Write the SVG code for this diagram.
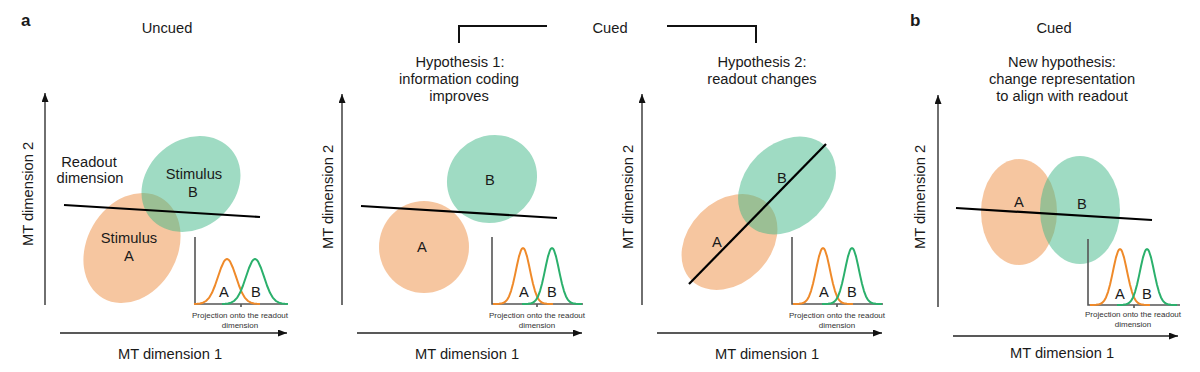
<svg xmlns="http://www.w3.org/2000/svg" width="1200" height="372" viewBox="0 0 1200 372">
<style>
text{font-family:"Liberation Sans",Arial,sans-serif;fill:#1a1a1a}
.t{font-size:14.7px;text-anchor:middle}
.lab{font-size:17px;font-weight:bold}
.cap{font-size:8px;text-anchor:middle;fill:#333}
.ax{stroke:#222;stroke-width:1.3;fill:none;marker-end:url(#arr)}
.iax{stroke:#555;stroke-width:1.6;fill:none}
.ro{stroke:#000;stroke-width:2.2;fill:none}
.eo{fill:#f0a060;fill-opacity:0.6}
.eg{fill:#40b888;fill-opacity:0.5}
.go{stroke:#ef8a2a;stroke-width:2;fill:none;stroke-linejoin:round}
.gg{stroke:#2bb06c;stroke-width:2;fill:none;stroke-linejoin:round}
.br{stroke:#111;stroke-width:2;fill:none}
</style>
<defs>
<marker id="arr" markerUnits="userSpaceOnUse" markerWidth="10" markerHeight="8" refX="9" refY="3.5" orient="auto">
<path d="M0,0 L9,3.5 L0,7 z" fill="#111"/>
</marker>
<path id="g1" d="M-33,0 L-30,-0.2 L-27,-0.5 L-24,-1.3 L-21,-3 L-18,-6.1 L-15,-11.2 L-12,-18.5 L-9,-27.3 L-6,-36 L-3,-42.6 L-1.5,-44.4 L0,-45 L1.5,-44.4 L3,-42.6 L6,-36 L9,-27.3 L12,-18.5 L15,-11.2 L18,-6.1 L21,-3 L24,-1.3 L27,-0.5 L30,-0.2 L33,0"/>
<path id="g2" d="M-30,0 L-26,-0.05 L-24,-0.16 L-22,-0.4 L-20,-0.95 L-18,-2.05 L-16,-4.1 L-14,-7.6 L-12,-12.9 L-10,-20.2 L-8,-29.1 L-6,-38.8 L-4,-47.6 L-2,-53.8 L-1,-55.4 L0,-56 L1,-55.4 L2,-53.8 L4,-47.6 L6,-38.8 L8,-29.1 L10,-20.2 L12,-12.9 L14,-7.6 L16,-4.1 L18,-2.05 L20,-0.95 L22,-0.4 L24,-0.16 L26,-0.05 L30,0"/>
</defs>
<rect width="1200" height="372" fill="#fff"/>

<g id="connectors">
<path class="br" d="M459,43 V26 H547"/>
<path class="br" d="M667,26 H756 V43"/>
</g>

<g id="header">
<text class="lab" x="21" y="26">a</text>
<text class="lab" x="910" y="26">b</text>
<text class="t" x="167" y="33">Uncued</text>
<text class="t" x="610" y="33">Cued</text>
<text class="t" x="1054" y="33">Cued</text>
</g>

<g id="panel-uncued">
<path class="ax" d="M45,305 V93"/>
<path class="ax" d="M60,333 H287"/>
<text class="t" transform="translate(33,194) rotate(-90)">MT dimension 2</text>
<text class="t" x="170" y="359">MT dimension 1</text>
<ellipse class="eo" cx="132" cy="248" rx="58" ry="45" transform="rotate(-60 132 248)"/>
<ellipse class="eg" cx="191" cy="184" rx="53" ry="44" transform="rotate(-40 191 184)"/>
<path class="ro" d="M64,205 L260,217"/>
<text class="t" x="89" y="167">Readout</text>
<text class="t" x="90" y="183">dimension</text>
<text class="t" x="194" y="179">Stimulus</text>
<text class="t" x="193" y="197">B</text>
<text class="t" x="129" y="243">Stimulus</text>
<text class="t" x="129" y="261">A</text>
<g id="inset-uncued">
<path class="iax" d="M195,237 V304 H287 M241,304 V307"/>
<use href="#g1" class="go" transform="translate(227,304)"/>
<use href="#g1" class="gg" transform="translate(255,304)"/>
<text class="t" x="224" y="297">A</text>
<text class="t" x="256" y="297">B</text>
<text class="cap" x="240" y="318">Projection onto the readout</text>
<text class="cap" x="240" y="328">dimension</text>
</g>
</g>

<g id="panel-hyp1">
<text class="t" x="460" y="67">Hypothesis 1:</text>
<text class="t" x="459" y="84">information coding</text>
<text class="t" x="459" y="101">improves</text>
<path class="ax" d="M342,305 V94"/>
<path class="ax" d="M357,333 H582"/>
<text class="t" transform="translate(333,197) rotate(-90)">MT dimension 2</text>
<text class="t" x="467" y="359">MT dimension 1</text>
<ellipse class="eo" cx="424" cy="247" rx="45" ry="46"/>
<ellipse class="eg" cx="492" cy="179" rx="46" ry="43" transform="rotate(-35 492 179)"/>
<path class="ro" d="M361,206 L557,218"/>
<text class="t" x="422" y="252">A</text>
<text class="t" x="490" y="185">B</text>
<g id="inset-hyp1">
<path class="iax" d="M492,237 V304 H583 M537,304 V307"/>
<use href="#g2" class="go" transform="translate(523,304)"/>
<use href="#g2" class="gg" transform="translate(552,304)"/>
<text class="t" x="524" y="297">A</text>
<text class="t" x="552" y="297">B</text>
<text class="cap" x="537" y="318">Projection onto the readout</text>
<text class="cap" x="537" y="328">dimension</text>
</g>
</g>

<g id="panel-hyp2">
<text class="t" x="762" y="67">Hypothesis 2:</text>
<text class="t" x="762" y="84">readout changes</text>
<path class="ax" d="M642,305 V94"/>
<path class="ax" d="M657,333 H882"/>
<text class="t" transform="translate(633,197) rotate(-90)">MT dimension 2</text>
<text class="t" x="767" y="359">MT dimension 1</text>
<ellipse class="eo" cx="729.5" cy="242" rx="54" ry="41" transform="rotate(-45 729.5 242)"/>
<ellipse class="eg" cx="787" cy="185.5" rx="55" ry="42" transform="rotate(-45 787 185.5)"/>
<path class="ro" d="M689,284 L826,144"/>
<text class="t" x="717" y="247">A</text>
<text class="t" x="782" y="183">B</text>
<g id="inset-hyp2">
<path class="iax" d="M792,237 V304 H883 M837,304 V307"/>
<use href="#g2" class="go" transform="translate(823,304)"/>
<use href="#g2" class="gg" transform="translate(852,304)"/>
<text class="t" x="824" y="297">A</text>
<text class="t" x="852" y="297">B</text>
<text class="cap" x="837" y="318">Projection onto the readout</text>
<text class="cap" x="837" y="328">dimension</text>
</g>
</g>

<g id="panel-new">
<text class="t" x="1062" y="67">New hypothesis:</text>
<text class="t" x="1062" y="84">change representation</text>
<text class="t" x="1062" y="101">to align with readout</text>
<path class="ax" d="M938,307 V95"/>
<path class="ax" d="M953,336 H1178"/>
<text class="t" transform="translate(925,197) rotate(-90)">MT dimension 2</text>
<text class="t" x="1062" y="358">MT dimension 1</text>
<ellipse class="eo" cx="1019" cy="212" rx="38" ry="53"/>
<ellipse class="eg" cx="1080" cy="210" rx="40" ry="54"/>
<path class="ro" d="M956,208 L1152,220"/>
<text class="t" x="1019" y="207">A</text>
<text class="t" x="1082" y="209">B</text>
<g id="inset-new">
<path class="iax" d="M1088,239 V305 H1180 M1134,305 V308"/>
<use href="#g2" class="go" transform="translate(1120,305)"/>
<use href="#g2" class="gg" transform="translate(1147,305)"/>
<text class="t" x="1120" y="299">A</text>
<text class="t" x="1147" y="299">B</text>
<text class="cap" x="1133" y="317">Projection onto the readout</text>
<text class="cap" x="1133" y="327">dimension</text>
</g>
</g>
</svg>
